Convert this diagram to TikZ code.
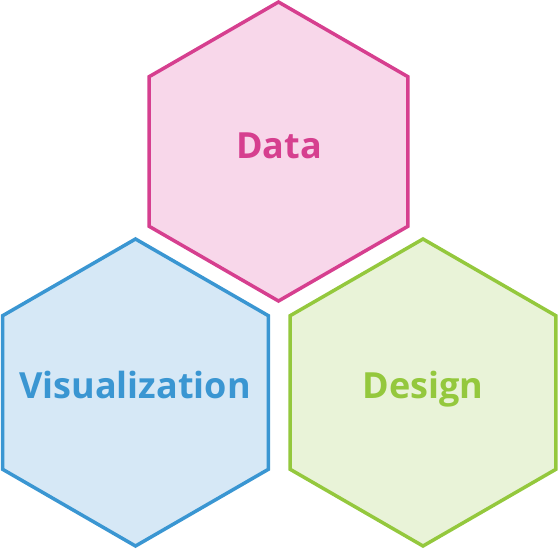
\documentclass[tikz,border=0pt]{standalone}
\usepackage{fontspec}
\setmainfont{Open Sans}
\usetikzlibrary{shapes.geometric}
\definecolor{pinkline}{HTML}{D63F8F}
\definecolor{pinkfill}{HTML}{F8D7EA}
\definecolor{blueline}{HTML}{3A96D2}
\definecolor{bluefill}{HTML}{D6E8F6}
\definecolor{greenline}{HTML}{94C83D}
\definecolor{greenfill}{HTML}{E9F3D8}
\tikzset{
  hexbox/.style={regular polygon, regular polygon sides=6, shape border rotate=30,
    inner sep=0pt, line width=3.5pt, draw=#1line, fill=#1fill},
  hexlabel/.style={anchor=base, font=\bfseries\fontsize{36}{40}\selectfont, text=#1line, inner sep=0pt}
}
\begin{document}
\begin{tikzpicture}[x=1pt,y=-1pt]
\useasboundingbox (0,0) rectangle (559,549);
\node[hexbox=pink, minimum size=299pt] (data) at (278.5,151.5) {};
\node[hexbox=blue, minimum size=307pt] (vis) at (135.5,392.5) {};
\node[hexbox=green, minimum size=307pt] (design) at (423,392.5) {};
\node[hexlabel=pink] (datat) at (279,158) {Data};
\node[hexlabel=blue] (vist) at (135,398) {Visualization};
\node[hexlabel=green] (designt) at (423,398) {Design};
\end{tikzpicture}
\end{document}
